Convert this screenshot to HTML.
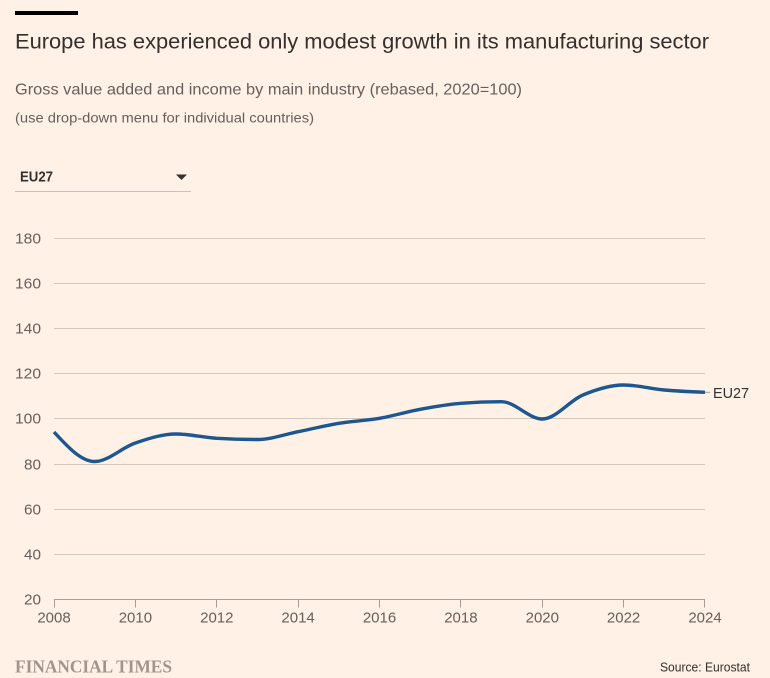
<!DOCTYPE html>
<html>
<head>
<meta charset="utf-8">
<style>
  html, body { margin:0; padding:0; background:#fff1e5; }
  body { width:770px; height:678px; overflow:hidden; }
  svg { display:block; }
  .s { font-family: "Liberation Sans", "DejaVu Sans", sans-serif; }
  .ft { font-family: "Liberation Serif", "DejaVu Serif", serif; font-weight:bold; }
</style>
</head>
<body>
<svg width="770" height="678" viewBox="0 0 770 678" xmlns="http://www.w3.org/2000/svg">
  <rect x="0" y="0" width="770" height="678" fill="#fff1e5"/>
  <!-- top bar -->
  <rect x="15" y="11" width="63" height="4" fill="#000"/>
  <!-- titles -->
  <text class="s" x="15" y="48.5" font-size="21.5" fill="#33302e" textLength="694" lengthAdjust="spacingAndGlyphs">Europe has experienced only modest growth in its manufacturing sector</text>
  <text class="s" x="15" y="94.3" font-size="15.8" fill="#66605c" textLength="507" lengthAdjust="spacingAndGlyphs">Gross value added and income by main industry (rebased, 2020=100)</text>
  <text class="s" x="15" y="122.7" font-size="13.6" fill="#66605c" textLength="299" lengthAdjust="spacingAndGlyphs">(use drop-down menu for individual countries)</text>
  <!-- dropdown -->
  <text class="s" x="20" y="181.7" font-size="14.5" font-weight="bold" fill="#33302e" textLength="33" lengthAdjust="spacingAndGlyphs">EU27</text>
  <polygon points="176,174.5 187,174.5 181.5,180" fill="#33302e"/>
  <line x1="15" y1="191.5" x2="191" y2="191.5" stroke="#ccc1b7" stroke-width="1"/>

  <!-- gridlines -->
  <g stroke="#d4c7bb" stroke-width="1">
    <line x1="54" y1="238.5" x2="705" y2="238.5"/>
    <line x1="54" y1="283.5" x2="705" y2="283.5"/>
    <line x1="54" y1="328.5" x2="705" y2="328.5"/>
    <line x1="54" y1="373.5" x2="705" y2="373.5"/>
    <line x1="54" y1="418.5" x2="705" y2="418.5"/>
    <line x1="54" y1="464.5" x2="705" y2="464.5"/>
    <line x1="54" y1="509.5" x2="705" y2="509.5"/>
    <line x1="54" y1="554.5" x2="705" y2="554.5"/>
  </g>
  <!-- x axis -->
  <g stroke="#a69d96" stroke-width="1">
    <line x1="54" y1="599.5" x2="705" y2="599.5"/>
    <line x1="54.5" y1="599.5" x2="54.5" y2="607.5"/>
    <line x1="135.5" y1="599.5" x2="135.5" y2="607.5"/>
    <line x1="216.5" y1="599.5" x2="216.5" y2="607.5"/>
    <line x1="298.5" y1="599.5" x2="298.5" y2="607.5"/>
    <line x1="379.5" y1="599.5" x2="379.5" y2="607.5"/>
    <line x1="460.5" y1="599.5" x2="460.5" y2="607.5"/>
    <line x1="542.5" y1="599.5" x2="542.5" y2="607.5"/>
    <line x1="623.5" y1="599.5" x2="623.5" y2="607.5"/>
    <line x1="704.5" y1="599.5" x2="704.5" y2="607.5"/>
  </g>
  <!-- y labels -->
  <g class="s" font-size="15" fill="#66605c">
    <text x="15" y="243.5" textLength="26" lengthAdjust="spacingAndGlyphs">180</text>
    <text x="15" y="288.5" textLength="26" lengthAdjust="spacingAndGlyphs">160</text>
    <text x="15" y="333.5" textLength="26" lengthAdjust="spacingAndGlyphs">140</text>
    <text x="15" y="378.5" textLength="26" lengthAdjust="spacingAndGlyphs">120</text>
    <text x="15" y="423.5" textLength="26" lengthAdjust="spacingAndGlyphs">100</text>
    <text x="24" y="469.5" textLength="17" lengthAdjust="spacingAndGlyphs">80</text>
    <text x="24" y="514.5" textLength="17" lengthAdjust="spacingAndGlyphs">60</text>
    <text x="24" y="559.5" textLength="17" lengthAdjust="spacingAndGlyphs">40</text>
    <text x="24" y="604.5" textLength="17" lengthAdjust="spacingAndGlyphs">20</text>
  </g>
  <!-- x labels -->
  <g class="s" font-size="15" fill="#66605c" text-anchor="middle">
    <text x="54" y="622.5">2008</text>
    <text x="135.4" y="622.5">2010</text>
    <text x="216.8" y="622.5">2012</text>
    <text x="298.1" y="622.5">2014</text>
    <text x="379.5" y="622.5">2016</text>
    <text x="460.9" y="622.5">2018</text>
    <text x="542.3" y="622.5">2020</text>
    <text x="623.6" y="622.5">2022</text>
    <text x="705" y="622.5">2024</text>
  </g>

  <!-- series -->
  <path d="M54,432 C67.56,446.75 81.13,461.5 94.69,461.5
           C108.25,461.5 121.82,447.58 135.38,443
           C148.94,438.42 162.5,434 176.06,434
           C189.62,434 203.19,437.5 216.75,438.3
           C230.31,439.1 243.88,439.5 257.44,439.5
           C271,439.5 284.57,434.4 298.13,431.7
           C311.69,429 325.25,425.53 338.81,423.3
           C352.37,421.07 365.94,420.63 379.5,418.3
           C393.06,415.97 406.63,411.8 420.19,409.3
           C433.75,406.8 447.32,404.37 460.88,403.3
           C474.44,402.23 488,401.7 501.56,401.7
           C515.12,401.7 528.69,419 542.25,419
           C555.81,419 569.38,400.67 582.94,395
           C596.5,389.33 610.07,385 623.63,385
           C637.19,385 650.75,388.78 664.31,390
           C677.87,391.22 691.44,391.76 705,392.3"
        fill="none" stroke="#1d5690" stroke-width="3.4" stroke-linejoin="round" stroke-linecap="butt"/>
  <line x1="705" y1="392.3" x2="710" y2="392.3" stroke="#a69d96" stroke-width="1"/>
  <text class="s" x="713" y="397.8" font-size="14.5" fill="#33302e" textLength="36" lengthAdjust="spacingAndGlyphs">EU27</text>

  <!-- footer -->
  <text class="ft" x="15" y="672.3" font-size="18" fill="#a0958c" textLength="157" lengthAdjust="spacingAndGlyphs">FINANCIAL TIMES</text>
  <text class="s" x="750" y="671.5" font-size="12.6" fill="#33302e" text-anchor="end" textLength="90" lengthAdjust="spacingAndGlyphs">Source: Eurostat</text>
</svg>
</body>
</html>
